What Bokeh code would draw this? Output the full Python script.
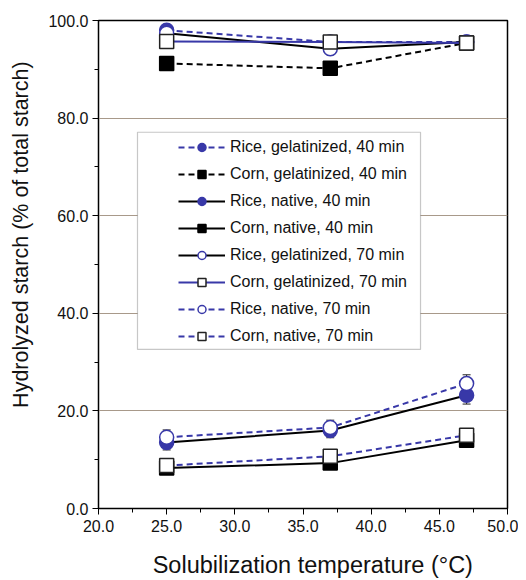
from bokeh.plotting import figure
from bokeh.models import (ColumnDataSource, Whisker, SingleIntervalTicker, NumeralTickFormatter,
                          BoxAnnotation, Legend)
from bokeh.embed import file_html
from bokeh.resources import INLINE

temps = [25.0, 37.0, 47.0]

rice_gel_40 = [98.0, 95.6, 95.6]
corn_gel_40 = [91.2, 90.2, 95.4]
rice_nat_40 = [13.5, 16.0, 23.2]
corn_nat_40 = [8.3, 9.3, 14.0]
rice_gel_70 = [97.4, 94.2, 95.6]
corn_gel_70 = [95.7, 95.6, 95.4]
rice_nat_70 = [14.6, 16.6, 25.6]
corn_nat_70 = [8.8, 10.7, 15.0]

err_small = [1.2, 1.2, 1.2]
err_big = [1.5, 1.5, 1.8]

labels = ["Rice, gelatinized, 40 min", "Corn, gelatinized, 40 min",
          "Rice, native, 40 min", "Corn, native, 40 min",
          "Rice, gelatinized, 70 min", "Corn, gelatinized, 70 min",
          "Rice, native, 70 min", "Corn, native, 70 min"]

x_title = "Solubilization temperature (°C)"
y_title = "Hydrolyzed starch (% of  total starch)"

BLUE = "#3838a8"
FONT = "Liberation Sans"
NB = "\u00a0"

p = figure(width=518, height=580, x_range=(20, 50), y_range=(0, 100),
           output_backend="svg", toolbar_location=None,
           min_border_left=98, min_border_right=11, min_border_top=20, min_border_bottom=70)

p.outline_line_color = "black"
p.outline_line_width = 1.5
p.xgrid.grid_line_color = None
p.ygrid.grid_line_color = "#a8998a"
p.ygrid.grid_line_width = 1

p.xaxis.ticker = SingleIntervalTicker(interval=5, num_minor_ticks=2)
p.yaxis.ticker = SingleIntervalTicker(interval=20, num_minor_ticks=2)
for ax in (p.xaxis, p.yaxis):
    ax.formatter = NumeralTickFormatter(format="0.0")
    ax.axis_line_color = "black"
    ax.major_tick_line_color = "black"
    ax.minor_tick_line_color = "black"
    ax.major_tick_out = 6
    ax.major_tick_in = 0
    ax.minor_tick_out = 4
    ax.minor_tick_in = 0
    ax.major_label_text_font = FONT
    ax.major_label_text_font_size = "16px"
    ax.major_label_text_color = "#111111"
    ax.axis_label_text_font = FONT
    ax.axis_label_text_font_style = "normal"
    ax.axis_label_text_color = "#111111"
p.xaxis.major_label_standoff = 5
p.yaxis.major_label_standoff = 4

# leading no-break spaces shift the titles off-centre, as in the reference
p.xaxis.axis_label = NB * 3 + x_title
p.yaxis.axis_label = NB * 11 + y_title
p.xaxis.axis_label_text_font_size = "23.5px"
p.yaxis.axis_label_text_font_size = "21.5px"
p.xaxis.axis_label_standoff = 17
p.yaxis.axis_label_standoff = 12

# legend box
box = BoxAnnotation(left=22.86, right=43.62, bottom=32.6, top=77.1,
                    fill_color="white", fill_alpha=1.0, line_color="#444444", line_width=1.2,
                    level="underlay")
p.add_layout(box)

series = [
    (rice_gel_40, err_small, BLUE, "dashed", "circle", BLUE, BLUE),
    (corn_gel_40, err_small, "black", "dashed", "square", "black", "black"),
    (rice_nat_40, err_big, "black", "solid", "circle", BLUE, BLUE),
    (corn_nat_40, err_small, "black", "solid", "square", "black", "black"),
    (rice_gel_70, err_small, "black", "solid", "circle", "white", BLUE),
    (corn_gel_70, err_small, BLUE, "solid", "square", "white", "#222222"),
    (rice_nat_70, err_big, BLUE, "dashed", "circle", "white", BLUE),
    (corn_nat_70, err_small, BLUE, "dashed", "square", "white", "#222222"),
]

items = []
for (vals, errs, lcol, dash, marker, fill, mline), lab in zip(series, labels):
    src = ColumnDataSource(dict(x=temps, y=vals,
                                lo=[v - e for v, e in zip(vals, errs)],
                                hi=[v + e for v, e in zip(vals, errs)]))
    w = Whisker(source=src, base="x", lower="lo", upper="hi", line_color="#222222",
                line_width=1)
    w.upper_head.size = 8
    w.lower_head.size = 8
    w.upper_head.line_color = "#222222"
    w.lower_head.line_color = "#222222"
    p.add_layout(w)
    dash_v = "6 4" if dash == "dashed" else "solid"
    r1 = p.line("x", "y", source=src, line_color=lcol, line_width=2, line_dash=dash_v)
    r2 = p.scatter("x", "y", source=src, marker=marker, size=14, fill_color=fill,
                   line_color=mline, line_width=1.5)
    items.append((lab, [r1, r2]))

legend = Legend(items=items, location=(76, 158), border_line_alpha=0,
                background_fill_alpha=0, padding=4, spacing=7,
                glyph_width=47, glyph_height=20, label_height=20,
                label_standoff=5, label_text_font=FONT, label_text_font_size="16px",
                label_text_color="#111111", margin=0)
p.add_layout(legend, "center")

open("out.html", "w").write(file_html(p, INLINE))
